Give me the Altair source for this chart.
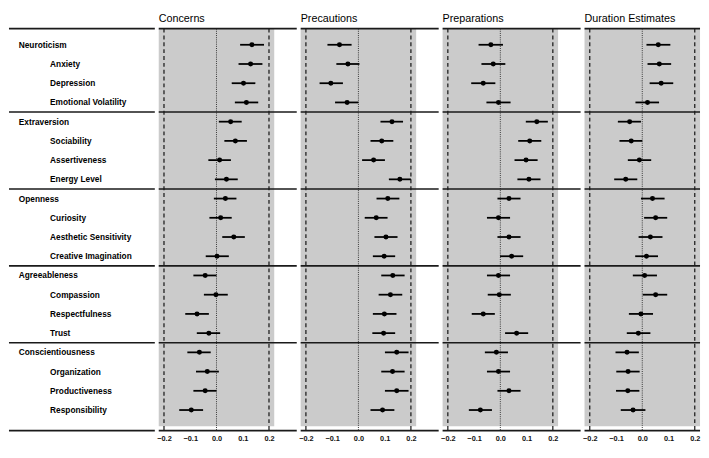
import altair as alt
import pandas as pd

rows = ["Neuroticism", "Anxiety", "Depression", "Emotional Volatility",
        "Extraversion", "Sociability", "Assertiveness", "Energy Level",
        "Openness", "Curiosity", "Aesthetic Sensitivity", "Creative Imagination",
        "Agreeableness", "Compassion", "Respectfulness", "Trust",
        "Conscientiousness", "Organization", "Productiveness", "Responsibility"]
is_trait = [True, False, False, False] * 5

outcomes = ["Concerns", "Precautions", "Preparations", "Duration Estimates"]

est_concerns = [0.135, 0.130, 0.103, 0.114, 0.054, 0.072, 0.012, 0.038, 0.034, 0.016,
                0.066, 0.002, -0.043, -0.002, -0.074, -0.029, -0.065, -0.035, -0.043, -0.096]
lo_concerns = [0.090, 0.084, 0.058, 0.070, 0.009, 0.030, -0.031, -0.006, -0.010, -0.027,
               0.022, -0.041, -0.088, -0.048, -0.119, -0.075, -0.111, -0.078, -0.088, -0.142]
hi_concerns = [0.181, 0.175, 0.148, 0.159, 0.096, 0.116, 0.055, 0.081, 0.076, 0.058,
               0.108, 0.047, 0.000, 0.043, -0.029, 0.014, -0.022, 0.009, 0.000, -0.051]

est_precautions = [-0.072, -0.040, -0.105, -0.043, 0.128, 0.089, 0.058, 0.158, 0.112, 0.068,
                   0.105, 0.098, 0.131, 0.122, 0.099, 0.096, 0.146, 0.130, 0.146, 0.092]
lo_precautions = [-0.118, -0.084, -0.148, -0.089, 0.084, 0.046, 0.014, 0.116, 0.069, 0.024,
                  0.061, 0.055, 0.087, 0.077, 0.055, 0.053, 0.101, 0.087, 0.101, 0.046]
hi_precautions = [-0.026, 0.004, -0.059, 0.000, 0.170, 0.133, 0.101, 0.200, 0.156, 0.111,
                  0.149, 0.140, 0.176, 0.167, 0.145, 0.140, 0.191, 0.176, 0.191, 0.137]

est_preparations = [-0.036, -0.027, -0.065, -0.007, 0.139, 0.112, 0.098, 0.109, 0.033, -0.007,
                    0.033, 0.043, -0.007, -0.004, -0.065, 0.062, -0.015, -0.007, 0.033, -0.076]
lo_preparations = [-0.083, -0.072, -0.111, -0.053, 0.097, 0.068, 0.054, 0.065, -0.011, -0.051,
                   -0.011, -0.001, -0.051, -0.048, -0.109, 0.018, -0.059, -0.051, -0.011, -0.120]
hi_preparations = [0.010, 0.019, -0.019, 0.039, 0.181, 0.156, 0.142, 0.153, 0.077, 0.037,
                   0.077, 0.087, 0.037, 0.040, -0.021, 0.106, 0.029, 0.037, 0.077, -0.032]

est_duration = [0.061, 0.065, 0.072, 0.020, -0.048, -0.042, -0.011, -0.063, 0.039, 0.051,
                0.031, 0.016, 0.009, 0.051, -0.005, -0.015, -0.058, -0.054, -0.055, -0.035]
lo_duration = [0.016, 0.020, 0.028, -0.026, -0.093, -0.087, -0.055, -0.107, -0.005, 0.007,
               -0.014, -0.027, -0.036, 0.002, -0.051, -0.059, -0.102, -0.099, -0.100, -0.082]
hi_duration = [0.107, 0.110, 0.118, 0.064, -0.005, 0.000, 0.034, -0.019, 0.085, 0.095,
               0.077, 0.060, 0.056, 0.095, 0.041, 0.031, -0.013, -0.010, -0.011, 0.012]

tick_values = [-0.2, -0.1, 0.0, 0.1, 0.2]
ref_dashed = [-0.2, 0.2]
ref_dotted = [0.0]

series = {
    "Concerns": (est_concerns, lo_concerns, hi_concerns),
    "Precautions": (est_precautions, lo_precautions, hi_precautions),
    "Preparations": (est_preparations, lo_preparations, hi_preparations),
    "Duration Estimates": (est_duration, lo_duration, hi_duration),
}

FONT = "Liberation Sans"
TOP_LINE = -0.84
BOTTOM_LINE = 20.07
GRAY_BOTTOM = 19.85
TITLE_ROW = -1.33
Y_DOMAIN = [-1.62, BOTTOM_LINE]
H = 426
GRAY_LO, GRAY_HI = -0.22, 0.22
PANEL_W = 141
LAST_W = 118
LABEL_W = 149

sep_rows = [TOP_LINE, 3.5, 7.5, 11.5, 15.5, BOTTOM_LINE]
sep_df = pd.DataFrame({"r": sep_rows})

yscale = alt.Scale(domain=Y_DOMAIN, nice=False, zero=False, reverse=True, padding=0)
Y = lambda f: alt.Y(f, scale=yscale, axis=None)


def panel(name, width, xmax):
    est, lo, hi = series[name]
    df = pd.DataFrame({"r": list(range(len(rows))), "est": est, "lo": lo, "hi": hi})
    xscale = alt.Scale(domain=[GRAY_LO, xmax], nice=False, zero=False, padding=0)
    xaxis = alt.Axis(values=tick_values, format=".1f", domain=False, ticks=False, grid=False,
                     title=None, labelFont=FONT, labelFontWeight="bold", labelFontSize=7.5,
                     labelColor="#111111", labelPadding=4, labelFlush=False)
    X = lambda f: alt.X(f, scale=xscale, axis=xaxis)

    gray = alt.Chart(pd.DataFrame({"a": [GRAY_LO], "b": [GRAY_HI], "y1": [TOP_LINE], "y2": [GRAY_BOTTOM]})).mark_rect(
        color="#cbcbcb").encode(x=X("a:Q"), x2="b:Q", y=Y("y1:Q"), y2="y2:Q")
    dashed = alt.Chart(pd.DataFrame({"v": ref_dashed, "y1": TOP_LINE, "y2": BOTTOM_LINE})).mark_rule(
        color="#111111", strokeWidth=1.2, strokeDash=[4, 3]).encode(x=X("v:Q"), y=Y("y1:Q"), y2="y2:Q")
    dotted = alt.Chart(pd.DataFrame({"v": ref_dotted, "y1": TOP_LINE, "y2": BOTTOM_LINE})).mark_rule(
        color="#333333", strokeWidth=1, strokeDash=[1, 1.2]).encode(x=X("v:Q"), y=Y("y1:Q"), y2="y2:Q")
    seps = alt.Chart(sep_df).mark_rule(color="#1a1a1a", strokeWidth=1.6).encode(
        y=Y("r:Q"), x=alt.value(0), x2=alt.value(width))
    bars = alt.Chart(df).mark_rule(color="#000000", strokeWidth=1.8).encode(
        x=X("lo:Q"), x2="hi:Q", y=Y("r:Q"))
    pts = alt.Chart(df).mark_circle(color="#000000", size=26, opacity=1).encode(
        x=X("est:Q"), y=Y("r:Q"))
    title = alt.Chart(pd.DataFrame({"t": [name], "x": [GRAY_LO], "r": [TITLE_ROW]})).mark_text(
        font=FONT, fontSize=11, align="left", baseline="middle", color="#000000").encode(
        x=X("x:Q"), y=Y("r:Q"), text="t:N")
    return alt.layer(gray, dashed, dotted, seps, bars, pts, title).properties(width=width, height=H)


lab_df = pd.DataFrame({"r": list(range(len(rows))), "label": rows, "trait": is_trait})
trait_txt = alt.Chart(lab_df).transform_filter("datum.trait").mark_text(
    font=FONT, fontSize=8.5, fontWeight="bold", align="left", baseline="middle", color="#000000").encode(
    x=alt.value(10), y=Y("r:Q"), text="label:N")
facet_txt = alt.Chart(lab_df).transform_filter("!datum.trait").mark_text(
    font=FONT, fontSize=8.5, fontWeight="bold", align="left", baseline="middle", color="#000000").encode(
    x=alt.value(42), y=Y("r:Q"), text="label:N")
lab_seps = alt.Chart(sep_df).mark_rule(color="#1a1a1a", strokeWidth=1.6).encode(
    y=Y("r:Q"), x=alt.value(0), x2=alt.value(LABEL_W))
label_chart = alt.layer(lab_seps, trait_txt, facet_txt).properties(width=LABEL_W, height=H)

panels = [panel(o, PANEL_W if i < 3 else LAST_W,
                GRAY_HI + (PANEL_W - LAST_W) / LAST_W * (GRAY_HI - GRAY_LO) if i < 3 else GRAY_HI)
          for i, o in enumerate(outcomes)]

chart = alt.hconcat(label_chart, *panels, spacing=0).properties(
    padding=0, background="white").configure_view(stroke=None)

chart.save("out.html", embed_options={"renderer": "svg", "actions": False})
